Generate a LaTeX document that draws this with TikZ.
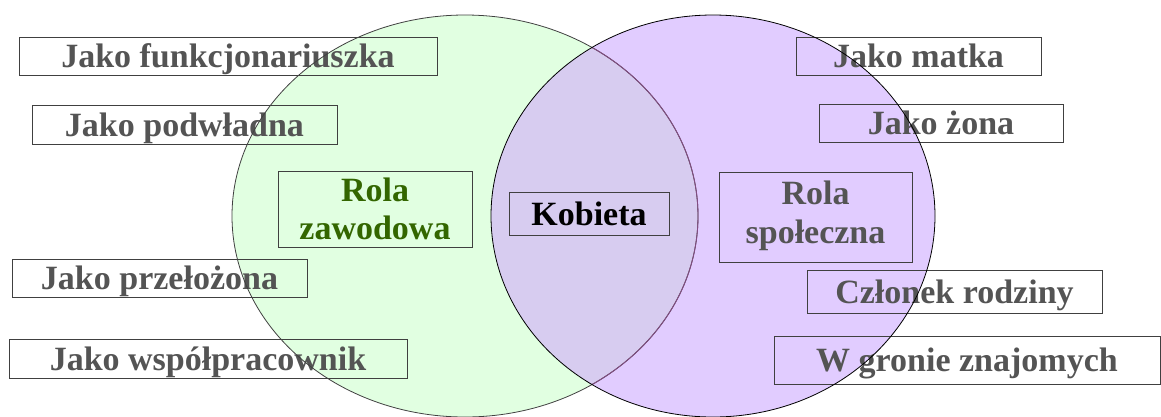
\documentclass[tikz,border=0pt]{standalone}
\usepackage{fontspec}
\setmainfont{Liberation Serif}
\definecolor{rolagreen}{HTML}{E1FFE1}
\definecolor{rolaviolet}{HTML}{E1CCFF}
\definecolor{rolamix}{HTML}{D7CCF0}
\definecolor{boxtext}{HTML}{545454}
\definecolor{zawodtext}{HTML}{336600}

\begin{document}
\begin{tikzpicture}[x=1pt,y=-1pt,
  rolebox/.style={draw=black!75,line width=0.9pt,inner sep=0pt,
   anchor=center,align=center,text=boxtext,
   text height=26.5pt,text depth=3.4pt,
   font=\bfseries\fontsize{34}{39}\selectfont}]
 \useasboundingbox (0,0) rectangle (1161,416);
 % the two roles
 \fill[rolagreen] (465,216) ellipse [x radius=233pt,y radius=201pt];
 \fill[rolaviolet] (713,216) ellipse [x radius=222pt,y radius=201pt];
 \begin{scope}
  \clip (465,216) ellipse [x radius=233pt,y radius=201pt];
  \fill[rolamix] (713,216) ellipse [x radius=222pt,y radius=201pt];
 \end{scope}
 % boxes
 \node[rolebox,minimum width=418pt,minimum height=38pt] (funk) at (228,56) {Jako funkcjonariuszka};
 \node[rolebox,minimum width=305pt,minimum height=39pt] (podwl) at (184.5,124.5) {Jako podwładna};
 \node[rolebox,minimum width=295pt,minimum height=38pt] (przel) at (159.5,278) {Jako przełożona};
 \node[rolebox,minimum width=398pt,minimum height=39pt] (wspol) at (208,358.5) {Jako współpracownik};
 \node[rolebox,minimum width=194pt,minimum height=76pt,text=zawodtext,
  text height=64.5pt,font=\bfseries\fontsize{34}{38}\selectfont] (zawod) at (375,209) {Rola\\zawodowa};
 \node[rolebox,minimum width=160pt,minimum height=43pt,text=black] (kobieta) at (589,213.5) {Kobieta};
 \node[rolebox,minimum width=193pt,minimum height=90pt,text height=65.5pt,text depth=13.5pt] (spol) at (815.5,217) {Rola\\społeczna};
 \node[rolebox,minimum width=245pt,minimum height=38pt] (matka) at (918.5,56) {Jako matka};
 \node[rolebox,minimum width=244pt,minimum height=38pt] (zona) at (941,123) {Jako żona};
 \node[rolebox,minimum width=295pt,minimum height=43pt] (czlonek) at (954.5,291.5) {Członek rodziny};
 \node[rolebox,minimum width=386pt,minimum height=48pt] (grono) at (967,360) {W gronie znajomych};
 % outlines on top
 \draw[black!75,line width=0.8pt] (465,216) ellipse [x radius=233pt,y radius=201pt];
 \begin{scope}
  \clip (713,216) ellipse [x radius=222pt,y radius=201pt];
  \draw[violet!60!black!70,line width=0.9pt] (465,216) ellipse [x radius=233pt,y radius=201pt];
 \end{scope}
 \draw[black,line width=0.8pt] (713,216) ellipse [x radius=222pt,y radius=201pt];
\end{tikzpicture}
\end{document}
